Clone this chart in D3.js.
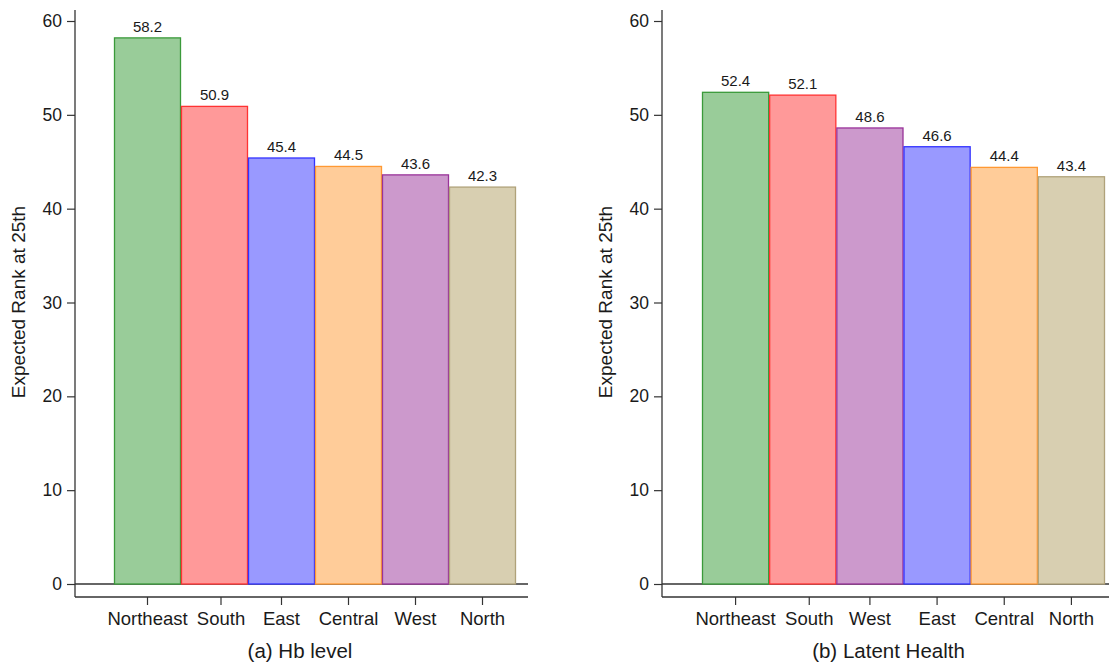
<!DOCTYPE html>
<html><head><meta charset="utf-8">
<script src="https://cdn.jsdelivr.net/npm/d3@7"></script>
<style>body{margin:0;background:#fff}svg{display:block}text{font-family:"Liberation Sans",Arial,sans-serif;fill:#1a1a1a}</style>
</head><body><svg id="c" width="1109" height="664"></svg>
<script>
const regionsA = ["Northeast","South","East","Central","West","North"];
const valuesA = [58.2,50.9,45.4,44.5,43.6,42.3];
const titleA = "(a) Hb level";
const regionsB = ["Northeast","South","West","East","Central","North"];
const valuesB = [52.4,52.1,48.6,46.6,44.4,43.4];
const titleB = "(b) Latent Health";
const yTicks = [0,10,20,30,40,50,60];
const yTitle = "Expected Rank at 25th";
const regionNames = ["Northeast","South","East","Central","West","North"];
const fillColors = ["#99cc99","#ff9999","#9999ff","#ffcc99","#cc99cc","#d8cfb1"];
const strokeColors = ["#3a9a3a","#ff3333","#3333ff","#ff9933","#993399","#b0a27a"];

const svg = d3.select("#c");
const fill = d3.scaleOrdinal(regionNames, fillColors);
const stroke = d3.scaleOrdinal(regionNames, strokeColors);
const FONT = "Liberation Sans, Arial, sans-serif";

function panel(cats, vals, title, axisX, x0, x1, rightEnd) {
  const g = svg.append("g");
  const y = d3.scaleLinear().domain([0,60]).range([584,21]);
  const x = d3.scaleBand().domain(cats).range([x0,x1]).padding(0);
  // y axis
  const ya = g.append("g").attr("transform",`translate(${axisX},0)`)
    .call(d3.axisLeft(y).tickValues(yTicks).tickSize(8).tickPadding(5));
  ya.select(".domain").remove();
  ya.append("line").attr("x1",0).attr("x2",0).attr("y1",10).attr("y2",597).attr("stroke","#333").attr("stroke-width",1.3);
  ya.selectAll(".tick line").attr("stroke","#333").attr("stroke-width",1.2);
  ya.selectAll(".tick text").attr("font-size",17.5).attr("font-family",FONT).attr("fill","#1a1a1a");
  // zero line
  g.append("line").attr("x1",axisX).attr("x2",rightEnd).attr("y1",y(0)).attr("y2",y(0)).attr("stroke","#333").attr("stroke-width",1.3);
  // bars
  g.selectAll("rect.bar").data(cats).join("rect").attr("class","bar")
    .attr("x",d=>x(d)+0.5).attr("width",x.bandwidth()-1)
    .attr("y",(d,i)=>y(vals[i])).attr("height",(d,i)=>y(0)-y(vals[i]))
    .attr("fill",d=>fill(d)).attr("stroke",d=>stroke(d)).attr("stroke-width",1.3);
  g.selectAll("text.val").data(cats).join("text").attr("class","val")
    .attr("x",d=>x(d)+x.bandwidth()/2).attr("y",(d,i)=>y(vals[i])-6)
    .attr("text-anchor","middle").attr("font-size",15).text((d,i)=>vals[i].toFixed(1));
  // x axis
  const xa = g.append("g").attr("transform","translate(0,597)")
    .call(d3.axisBottom(x).tickSize(8).tickPadding(7));
  xa.select(".domain").remove();
  xa.append("line").attr("x1",axisX).attr("x2",rightEnd).attr("y1",0).attr("y2",0).attr("stroke","#333").attr("stroke-width",1.3);
  xa.selectAll(".tick line").attr("stroke","#333").attr("stroke-width",1.2);
  xa.selectAll(".tick text").attr("font-size",18.5).attr("font-family",FONT).attr("fill","#1a1a1a");
  // second label sits slightly right of its bar centre in the original
  xa.selectAll(".tick").filter((d,i)=>i===1)
    .attr("transform",d=>`translate(${x(d)+x.bandwidth()/2+6.5},0)`);
  // titles
  g.append("text").attr("x",(x0+x1)/2-15).attr("y",658).attr("text-anchor","middle").attr("font-size",20.5).text(title);
  g.append("text").attr("transform",`translate(${axisX-50},302) rotate(-90)`).attr("text-anchor","middle").attr("font-size",19).text(yTitle);
}
panel(regionsA, valuesA, titleA, 75, 114, 516, 528);
panel(regionsB, valuesB, titleB, 662, 702, 1105, 1109);
</script></body></html>
